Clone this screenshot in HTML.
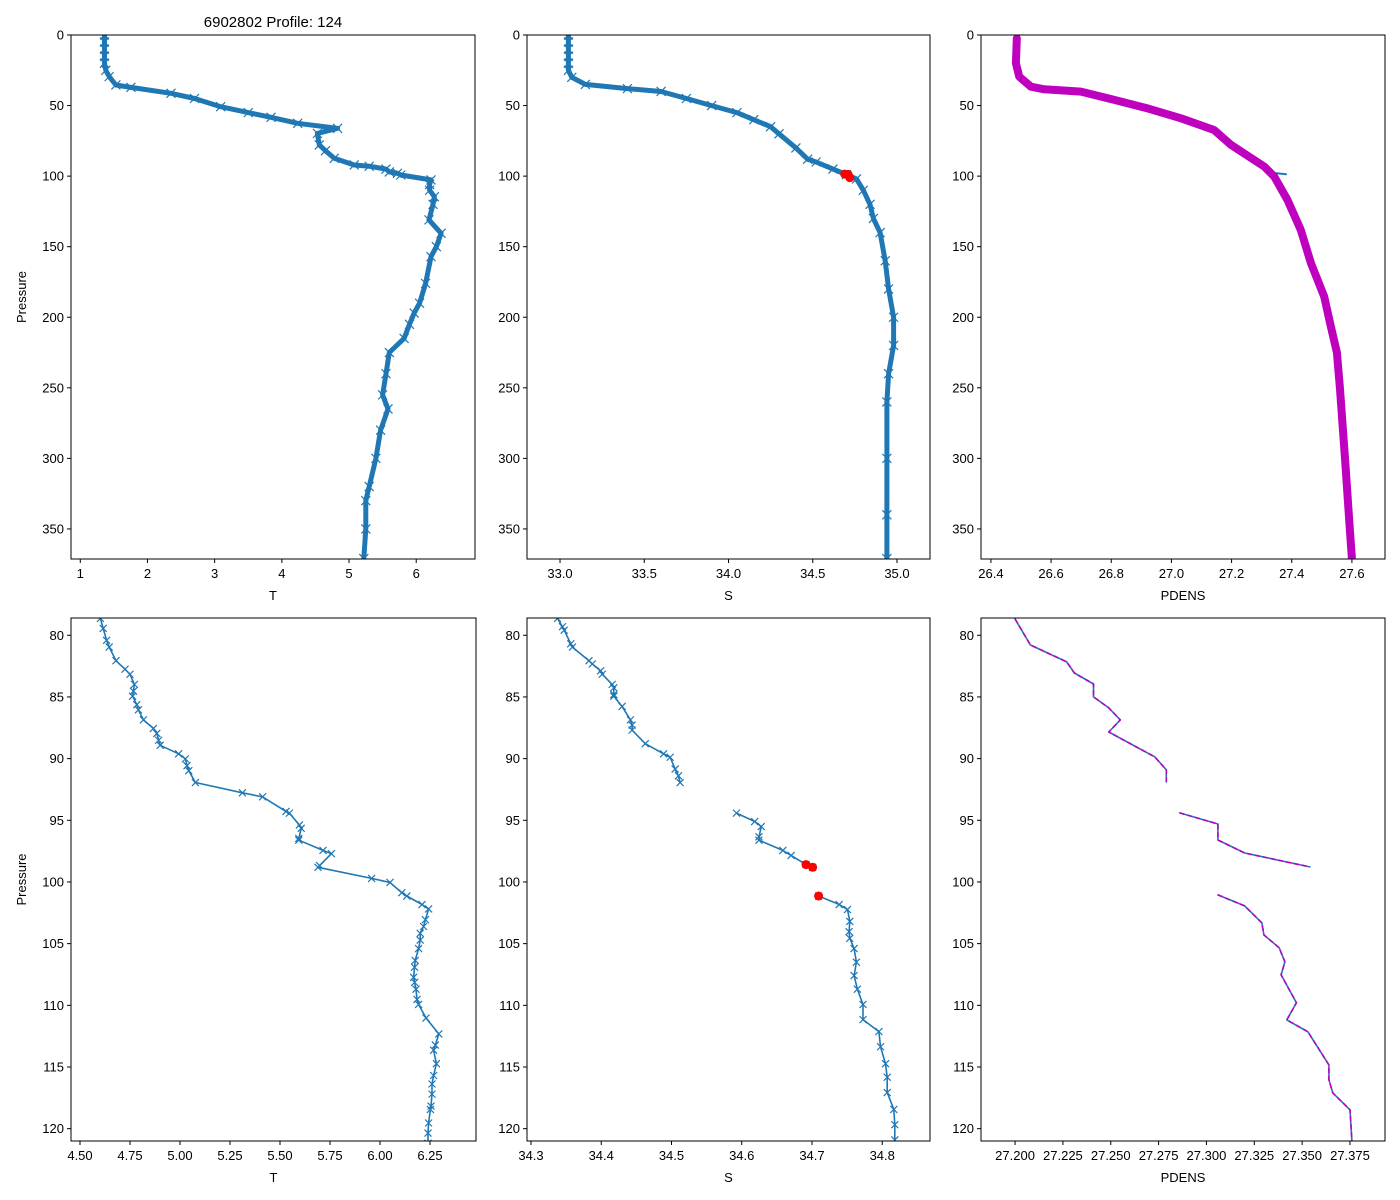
<!DOCTYPE html>
<html><head><meta charset="utf-8">
<style>
body{margin:0;background:#fff;}
svg{display:block;font-family:"Liberation Sans","DejaVu Sans",sans-serif;}
text{fill:#000;}
</style></head>
<body>
<svg id="fig" width="1400" height="1200" viewBox="0 0 1400 1200" xmlns="http://www.w3.org/2000/svg">
<rect width="1400" height="1200" fill="#fff"/>
<text x="273" y="27" font-size="15" text-anchor="middle">6902802 Profile: 124</text>
</svg>
<script>
// ---------- Top temperature profile ----------
const topTP = [0,5,10,15,20,25,29.5,35.4,37.1,41.3,45,50.8,55,58.3,62.6,66.1,69.7,77.9,82,87.4,92.1,93,95,97,98,99.2,102.7,106,110,114.6,120,131,140.5,150,157,176,190,197,205,215,225,240,255,265,280,300,320,330,350,371];
const topT  = [1.36,1.36,1.36,1.36,1.36,1.38,1.43,1.53,1.754,2.35,2.7,3.09,3.5,3.84,4.235,4.83,4.53,4.557,4.65,4.78,5.077,5.3,5.55,5.6,5.72,5.77,6.22,6.2,6.2,6.27,6.25,6.19,6.37,6.3,6.22,6.14,6.05,5.97,5.9,5.82,5.6,5.55,5.5,5.58,5.47,5.4,5.3,5.25,5.25,5.22];
// ---------- Top salinity profile ----------
const topSP = [0,5,10,15,20,25,30,35,38,40,45,50,55,60,65,70,80,88,90,95,99,102,110,120,130,140,160,180,200,220,240,260,300,340,371];
const topS  = [33.05,33.05,33.05,33.05,33.05,33.05,33.07,33.15,33.4,33.6,33.75,33.9,34.05,34.15,34.25,34.3,34.4,34.47,34.52,34.62,34.7,34.76,34.8,34.84,34.86,34.9,34.93,34.95,34.98,34.98,34.95,34.94,34.94,34.94,34.94];
const topRedS = [34.69,34.71,34.72];
const topRedP = [98.6,98.8,101.1];
// ---------- Top density profile ----------
const topDP = [2.4,20,29.5,36.6,38.5,40.1,46,52,59,67.3,77.9,93.3,100.4,116.9,138.2,161.8,185.4,206.7,225,250,300,350,371];
const topD  = [26.486,26.483,26.494,26.533,26.577,26.699,26.81,26.921,27.032,27.142,27.198,27.309,27.342,27.386,27.43,27.464,27.508,27.53,27.55,27.56,27.577,27.593,27.6];
const topBlueD = [27.33,27.381];
const topBlueP = [97.5,98.7];
// ---------- Bottom (zoom) temperature ----------
const botTP = [78.63,79.45,80.41,80.96,82.06,82.75,83.16,83.98,84.53,84.94,85.63,86.04,86.86,87.55,87.96,88.51,88.92,89.61,90.02,90.57,90.98,91.94,92.77,93.10,94.28,94.42,95.38,95.65,96.47,96.61,97.44,97.71,98.67,98.81,99.71,100.04,100.87,101.14,101.83,102.19,103.06,103.61,104.16,104.71,105.40,106.36,106.91,107.73,108.14,108.69,109.52,109.93,111.03,112.32,113.22,113.64,114.73,115.69,116.38,117.20,118.17,118.44,119.54,120.36,121.19];
const botT  = [4.602,4.616,4.633,4.646,4.680,4.725,4.75,4.772,4.767,4.763,4.784,4.792,4.817,4.867,4.884,4.893,4.901,4.993,5.027,5.035,5.044,5.077,5.312,5.413,5.530,5.547,5.597,5.606,5.594,5.594,5.715,5.757,5.698,5.690,5.958,6.050,6.109,6.134,6.210,6.243,6.227,6.218,6.201,6.201,6.193,6.176,6.173,6.168,6.173,6.180,6.185,6.193,6.230,6.294,6.277,6.268,6.282,6.268,6.260,6.260,6.255,6.252,6.243,6.240,6.240];
// ---------- Bottom salinity (null = gap) ----------
const botSP = [78.63,79.31,79.59,80.69,80.96,82.06,82.33,82.88,83.16,83.98,84.26,84.81,84.94,85.77,86.86,87.28,87.69,88.79,89.61,89.89,90.85,91.39,91.94,null,94.42,95.10,95.51,96.34,96.61,97.44,97.85,98.59,98.81,null,101.14,101.83,102.24,103.20,104.03,104.57,105.40,106.50,107.59,108.69,109.93,111.16,112.13,113.36,114.73,115.83,117.07,118.44,119.68,120.91];
const botS  = [34.3377,34.3448,34.3472,34.3566,34.3590,34.3825,34.3873,34.3991,34.4014,34.4156,34.4179,34.4179,34.4179,34.4297,34.4415,34.4439,34.4439,34.4627,34.4887,34.4981,34.5052,34.5099,34.5123,null,34.5925,34.6184,34.6278,34.6245,34.6245,34.6585,34.6703,34.6915,34.7009,null,34.7094,34.7387,34.7505,34.7538,34.7528,34.7538,34.7599,34.7632,34.7599,34.7646,34.7726,34.7726,34.7953,34.7976,34.8047,34.8071,34.8071,34.8165,34.8179,34.8179];
const botRedS = [34.6915,34.7009,34.7094];
const botRedP = [98.59,98.81,101.14];
// ---------- Bottom density (null = gap) ----------
const botDP = [78.68,80.79,82.16,83.06,83.95,85.0,85.89,86.86,87.84,89.86,90.91,91.89,null,94.4,95.3,96.6,97.65,98.78,null,101.05,101.94,103.32,104.29,105.34,106.48,107.53,109.8,111.18,112.15,114.83,116.04,117.1,118.47,120.98];
const botD  = [27.2,27.208,27.227,27.231,27.241,27.241,27.249,27.255,27.249,27.273,27.279,27.279,null,27.286,27.306,27.306,27.320,27.354,null,27.306,27.320,27.329,27.330,27.338,27.341,27.339,27.347,27.342,27.353,27.364,27.364,27.366,27.375,27.376];
// ---------- Tick labels ----------
const topPTicks = [0,50,100,150,200,250,300,350];
const botPTicks = [80,85,90,95,100,105,110,115,120];
const topTTicks = [1,2,3,4,5,6];
const topSTicks = [33.0,33.5,34.0,34.5,35.0];
const topDTicks = [26.4,26.6,26.8,27.0,27.2,27.4,27.6];
const botTTicks = [4.50,4.75,5.00,5.25,5.50,5.75,6.00,6.25];
const botSTicks = [34.3,34.4,34.5,34.6,34.7,34.8];
const botDTicks = [27.200,27.225,27.250,27.275,27.300,27.325,27.350,27.375];

const NS = "http://www.w3.org/2000/svg";
const svg = document.getElementById('fig');
const BLUE = '#1f77b4', MAG = '#bf00bf';
function mk(tag, attrs, parent){const e=document.createElementNS(NS,tag);for(const k in attrs)e.setAttribute(k,attrs[k]);(parent||svg).appendChild(e);return e;}

function panel(cfg){
  const g = mk('g',{});
  
  
  const sx = v => cfg.x0 + (v - cfg.xd[0]) / (cfg.xd[1]-cfg.xd[0]) * (cfg.x1-cfg.x0);
  const sy = v => cfg.y0 + (v - cfg.yd[0]) / (cfg.yd[1]-cfg.yd[0]) * (cfg.y1-cfg.y0);
  const clip = 'clip-'+cfg.name;
  const cp = mk('clipPath',{id:clip},g);
  mk('rect',{x:cfg.x0,y:cfg.y0,width:cfg.x1-cfg.x0,height:cfg.y1-cfg.y0},cp);
  const plot = mk('g',{'clip-path':'url(#'+clip+')'},g);
  function pathOf(xs, ys){
    let d='', pen=false;
    for(let i=0;i<xs.length;i++){
      if(xs[i]===null||ys[i]===null){pen=false;continue;}
      d += (pen?'L':'M') + sx(xs[i]).toFixed(1)+','+sy(ys[i]).toFixed(1);
      pen=true;
    }
    return d;
  }
  cfg.series.forEach(s=>{
    const p = mk('path',{d:pathOf(s.x,s.y),fill:'none',stroke:s.color,'stroke-width':s.width,'stroke-linejoin':'round','stroke-linecap':s.dash?'butt':'round'},plot);
    if(s.dash) p.setAttribute('stroke-dasharray', s.dash);
    
    
    if(s.marker==='x'){
      for(let i=0;i<s.x.length;i++){
        if(s.x[i]===null) continue;
        const cx=sx(s.x[i]), cy=sy(s.y[i]), r=s.ms||3.5;
        const m = mk('path',{d:`M${cx-r},${cy-r}L${cx+r},${cy+r}M${cx-r},${cy+r}L${cx+r},${cy-r}`,stroke:s.color,'stroke-width':1.2,fill:'none'},plot);
        
        
      }
    }
    if(s.marker==='dot'){
      for(let i=0;i<s.x.length;i++){
        const c = mk('circle',{cx:sx(s.x[i]),cy:sy(s.y[i]),r:4.5,fill:s.color},plot);
        
        
      }
    }
  });
  const fr = mk('rect',{x:cfg.x0,y:cfg.y0,width:cfg.x1-cfg.x0,height:cfg.y1-cfg.y0,fill:'none',stroke:'#000','stroke-width':1},g);
  
  
  cfg.xt.forEach(v=>{
    const x=sx(v);
    mk('line',{x1:x,x2:x,y1:cfg.y1,y2:cfg.y1+4,stroke:'#000','stroke-width':1},g);
    const t=mk('text',{x:x,y:cfg.y1+19,'font-size':13,'text-anchor':'middle'},g);
    t.textContent = v.toFixed(cfg.xfmt);
    
    
  });
  cfg.yt.forEach(v=>{
    const y=sy(v);
    mk('line',{x1:cfg.x0-4,x2:cfg.x0,y1:y,y2:y,stroke:'#000','stroke-width':1},g);
    const t=mk('text',{x:cfg.x0-7,y:y+4.5,'font-size':13,'text-anchor':'end'},g);
    t.textContent = String(v);
    
    
  });
  const xl=mk('text',{x:(cfg.x0+cfg.x1)/2,y:cfg.y1+41,'font-size':13,'text-anchor':'middle'},g);
  xl.textContent = cfg.xlabel;
  
  
  if(cfg.ylabel){
    const cy=(cfg.y0+cfg.y1)/2;
    const yl=mk('text',{x:26,y:cy,'font-size':13,'text-anchor':'middle',transform:`rotate(-90 26 ${cy})`},g);
    yl.textContent = cfg.ylabel;
    
    
  }
}

const TOPY=[35,559], BOTY=[618,1141];
const topYD=[0,371.3], botYD=[78.6,121.0];
panel({name:'top-temperature-panel',x0:71,x1:475,y0:TOPY[0],y1:TOPY[1],xd:[0.862,6.875],yd:topYD,xt:topTTicks,xfmt:0,yt:topPTicks,xlabel:'T',ylabel:'Pressure',
  series:[{name:'temperature-line',x:topT,y:topTP,color:BLUE,width:5,marker:'x',ms:4.5}]});
panel({name:'top-salinity-panel',x0:527,x1:930,y0:TOPY[0],y1:TOPY[1],xd:[32.804,35.196],yd:topYD,xt:topSTicks,xfmt:1,yt:topPTicks,xlabel:'S',
  series:[{name:'salinity-line',x:topS,y:topSP,color:BLUE,width:5,marker:'x',ms:4.5},
          {name:'flagged-salinity',x:topRedS,y:topRedP,color:'#ff0000',width:0,marker:'dot'}]});
panel({name:'top-density-panel',x0:981,x1:1385,y0:TOPY[0],y1:TOPY[1],xd:[26.367,27.71],yd:topYD,xt:topDTicks,xfmt:1,yt:topPTicks,xlabel:'PDENS',
  series:[{name:'density-blue-line',x:topBlueD,y:topBlueP,color:BLUE,width:2},
          {name:'density-line',x:topD,y:topDP,color:MAG,width:8}]});
panel({name:'bottom-temperature-panel',x0:71,x1:476,y0:BOTY[0],y1:BOTY[1],xd:[4.455,6.48],yd:botYD,xt:botTTicks,xfmt:2,yt:botPTicks,xlabel:'T',ylabel:'Pressure',
  series:[{name:'temperature-zoom-line',x:botT,y:botTP,color:BLUE,width:1.6,marker:'x'}]});
panel({name:'bottom-salinity-panel',x0:527,x1:930,y0:BOTY[0],y1:BOTY[1],xd:[34.2943,34.868],yd:botYD,xt:botSTicks,xfmt:1,yt:botPTicks,xlabel:'S',
  series:[{name:'salinity-zoom-line',x:botS,y:botSP,color:BLUE,width:1.6,marker:'x'},
          {name:'flagged-salinity-zoom',x:botRedS,y:botRedP,color:'#ff0000',width:0,marker:'dot'}]});
panel({name:'bottom-density-panel',x0:981,x1:1385,y0:BOTY[0],y1:BOTY[1],xd:[27.1822,27.3933],yd:botYD,xt:botDTicks,xfmt:3,yt:botPTicks,xlabel:'PDENS',
  series:[{name:'density-zoom-line',x:botD,y:botDP,color:BLUE,width:1.6},
          {name:'density-zoom-dashed',x:botD,y:botDP,color:MAG,width:1.6,dash:'5,3'}]});
</script>
</body></html>
